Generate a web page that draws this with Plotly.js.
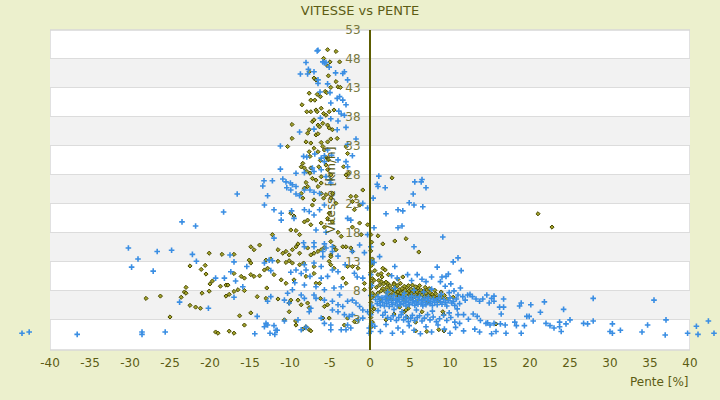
<!DOCTYPE html>
<html>
<head>
<meta charset="utf-8">
<script src="https://cdn.plot.ly/plotly-3.0.1.min.js"></script>
<style>html,body{margin:0;padding:0;background:#ecf0cd;}#chart{width:720px;height:400px;}</style>
</head>
<body>
<div id="chart"></div>
<script>
// ---- DATA: [pente %, vitesse km/h] ----
const blueFarLeft = [[-43.5,0.7],[-42.6,0.9],[-36.6,0.5],[-28.5,0.9],[-28.5,0.5],[-25.6,0.9],[-30.2,15.4],[-29.0,13.5],[-29.8,12.1],[-26.6,14.8],[-24.8,15.0],[-27.1,11.4],[-22.2,14.3],[-21.7,13.1],[-17.5,14.2],[-17.0,13.0],[-19.3,10.2],[-18.2,10.2],[-17.4,11.3],[-16.8,9.7],[-17.0,6.9],[-23.8,6.05],[-20.2,5.0],[-23.5,19.9],[-21.8,19.2],[-18.3,21.6]];
const blueLeftMid = [[-13.4,26.1],[-16.6,24.7],[-12.8,24.4],[-13.2,22.8],[-13.25,27.0],[-12.6,13.3],[-13.2,12.8],[-15.4,12.2],[-15.9,8.7],[-12.8,6.2],[-12.4,7.0],[-14.1,3.6],[-13.0,2.4],[-13.2,1.8],[-12.8,2.1],[-12.5,0.7],[-14.4,0.6]];
const bluePeakTop = [[-6.6,49.4],[-6.5,49.5],[-8.0,47.4],[-5.9,47.5],[-5.7,47.3],[-5.5,47.4],[-5.1,46.6],[-8.7,45.4],[-7.8,45.4],[-7.7,46.2],[-7.0,45.8],[-6.5,44.4],[-6.5,43.8],[-5.3,43.7],[-4.3,45.6],[-3.4,45.5],[-3.2,45.8],[-2.8,44.4],[-5.0,42.2],[-4.1,41.2],[-3.8,41.5],[-3.4,40.9],[-3.0,40.1],[-6.25,42.3],[-4.9,40.4],[-3.9,39.0],[-3.6,38.5],[-3.2,38.3],[-6.2,37.8],[-4.9,37.7],[-4.0,37.3],[-8.8,35.4],[-7.0,35.9],[-4.1,35.8],[-3.0,36.2]];
const bluePeakMid = [[-11.2,33.0],[-8.3,31.2],[-7.9,31.1],[-6.1,30.9],[-5.7,31.3],[-5.7,30.3],[-4.8,31.4],[-4.0,30.6],[-3.0,30.3],[-2.8,33.3],[-2.2,31.3],[-1.75,34.2],[-2.8,29.4],[-6.9,31.6],[-5.3,32.3],[-11.2,29.0],[-9.25,28.3],[-8.2,28.4],[-7.2,29.2],[-7.0,28.6],[-6.1,28.9],[-5.5,27.7],[-5.0,27.1],[-4.9,26.6],[-12.2,27.0],[-10.9,27.3],[-10.5,26.8],[-9.95,26.6],[-9.7,26.3],[-9.25,26.0],[-10.4,25.8],[-9.9,25.4],[-9.25,24.7],[-8.8,24.4],[-8.2,25.4],[-7.5,25.4],[-7.0,25.0],[-6.3,24.8],[-12.0,22.0],[-11.1,21.4],[-11.1,20.2],[-9.8,21.8],[-9.5,20.5],[-8.2,22.0],[-7.6,21.7],[-7.0,21.1],[-6.3,22.0],[-5.7,22.8],[-2.8,20.5],[-2.4,20.2],[-0.9,23.1],[-0.3,22.3],[-6.75,18.5],[-5.5,18.1],[-0.3,17.7],[-12.0,17.1]];
const bluePeakLow = [[-8.3,16.3],[-8.2,15.6],[-7.0,16.3],[-7.0,15.6],[-5.7,16.1],[-5.5,15.4],[-5.9,14.8],[-5.9,13.9],[-4.7,15.6],[-4.7,14.8],[-4.0,14.0],[-1.3,15.9],[-0.7,14.6],[-2.2,14.8],[-12.2,13.2],[-12.4,11.5],[-9.9,11.2],[-9.25,11.6],[-8.6,11.0],[-8.2,12.5],[-8.0,11.6],[-7.0,12.8],[-6.1,12.2],[-4.7,11.6],[-4.0,11.3],[-3.1,12.5],[-1.95,11.05],[-1.6,10.4],[-0.9,10.2],[-9.4,9.4],[-8.2,9.0],[-7.5,10.5],[-6.1,10.2],[-5.3,10.5],[-6.75,8.7],[-5.7,8.2],[-4.5,8.5],[-3.6,8.7],[-3.8,7.3],[-10.3,7.6],[-9.7,8.2],[-8.6,7.3],[-8.2,6.7],[-7.4,5.0],[-7.6,4.4],[-7.0,7.3],[-6.75,6.7],[-5.7,6.4],[-4.7,6.2],[-4.0,5.6],[-3.4,5.3],[-4.7,4.7],[-4.0,4.4],[-3.2,3.9],[-2.6,3.6],[-2.2,3.9],[-2.8,6.2],[-2.2,6.4],[-1.75,5.9],[-1.3,5.3],[-0.9,4.7],[-0.3,4.4],[-6.1,3.3],[-5.7,2.4],[-4.9,2.1],[-4.9,1.3],[-3.6,1.3],[-3.0,1.3],[-2.4,1.6],[-2.8,2.1],[-12.0,2.0],[-11.75,1.2],[-8.0,1.7],[-8.6,1.3],[-1.5,3.0],[-0.9,3.3],[-0.1,1.6],[-0.1,0.7],[-10.7,6.4],[-10.1,5.9],[-10.7,2.8],[-9.0,3.0],[-11.6,1.2],[-11.9,0.5]];
const blueRightUpper = [[1.0,26.0],[1.1,27.8],[0.9,26.4],[1.9,25.8],[5.6,26.8],[6.4,26.8],[6.5,27.2],[7.0,25.8],[5.4,24.7],[4.9,23.2],[5.5,22.8],[6.6,22.5],[3.5,22.0],[4.1,21.8],[2.0,21.3],[4.0,19.2],[3.5,18.9],[0.5,18.9],[9.1,17.3],[5.5,15.6],[1.2,13.9],[11.0,13.7],[10.4,13.0],[11.4,11.5],[8.4,12.1],[3.1,12.2],[0.5,12.9],[9.8,10.9],[9.5,10.5],[9.0,10.4],[7.7,10.4],[8.8,9.6],[7.0,9.6],[5.9,10.8],[4.7,10.8],[6.5,10.0],[5.2,9.8],[3.4,10.2],[2.7,10.6],[0.4,24.0],[0.1,15.6],[0.2,13.0],[0.1,10.8],[0.2,8.9],[0.1,7.2],[0.2,5.5],[0.1,3.9],[0.2,2.3],[0.1,1.0]];
const blueCluster = [[0.7,6.5],[0.9,5.8],[1.0,7.0],[1.2,6.2],[1.3,5.5],[1.5,6.8],[1.6,6.0],[1.8,5.4],[1.9,6.5],[2.0,7.1],[2.1,5.8],[2.3,6.3],[2.4,5.3],[2.5,6.9],[2.7,6.0],[2.8,5.6],[2.9,6.6],[3.0,7.2],[3.2,5.9],[3.3,6.4],[3.4,5.4],[3.6,6.8],[3.7,6.1],[3.8,5.6],[4.0,6.5],[4.1,7.0],[4.2,5.8],[4.4,6.2],[4.5,5.4],[4.6,6.8],[4.8,6.0],[4.9,5.6],[5.0,6.6],[5.2,7.1],[5.3,5.9],[5.4,6.3],[5.6,5.5],[5.7,6.9],[5.8,6.1],[6.0,5.7],[6.1,6.5],[6.2,7.0],[6.4,5.9],[6.5,6.3],[6.6,5.4],[6.8,6.7],[6.9,6.0],[7.0,5.6],[7.2,6.4],[7.3,6.9],[7.5,5.8],[7.6,6.2],[7.8,5.5],[7.9,6.6],[8.1,6.0],[8.3,6.4],[8.4,5.6],[8.6,6.8],[8.8,6.1],[9.0,5.7],[9.2,6.5],[9.4,6.0],[9.6,5.4],[9.8,6.3],[10.0,6.8],[10.2,5.9],[10.4,6.2],[10.6,5.5],[10.8,6.6],[11.0,7.3],[11.2,5.8],[2.2,7.8],[3.1,8.4],[4.3,7.6],[5.5,8.1],[6.7,7.8],[7.7,8.3],[8.9,7.4],[9.9,7.7],[10.5,8.0],[11.3,8.5],[10.1,9.2],[9.4,8.8],[1.6,3.8],[2.2,3.4],[2.6,3.1],[2.9,3.7],[3.3,2.9],[3.6,3.4],[3.9,3.9],[4.2,3.0],[4.5,3.5],[4.8,2.7],[5.1,3.3],[5.3,3.8],[5.6,2.9],[5.9,3.4],[6.2,3.7],[6.5,2.8],[6.8,3.3],[7.2,3.9],[7.5,3.0],[7.9,3.5],[8.3,2.7],[8.7,3.2],[9.2,3.8],[9.6,2.9],[10.1,3.4],[10.6,2.6],[11.0,3.9],[0.6,1.9],[1.3,1.0],[2.0,2.2],[2.8,0.7],[3.5,1.6],[4.1,0.9],[4.9,2.0],[5.5,1.2],[6.3,0.6],[7.0,1.8],[7.7,0.9],[8.5,2.1],[9.3,1.4],[10.0,0.7],[10.7,1.7],[11.2,2.4],[1.0,4.6],[1.9,4.3],[3.0,4.8],[4.0,4.4],[5.8,4.7],[7.8,4.5],[9.9,4.2],[10.9,4.9]];
const blueTail = [[11.6,7.0],[11.9,6.4],[12.2,7.3],[12.5,7.4],[12.8,7.0],[13.25,6.6],[13.7,6.2],[14.1,6.6],[14.6,7.3],[14.9,5.9],[15.2,6.7],[15.5,7.1],[15.5,6.2],[16.2,5.2],[16.7,6.6],[16.7,5.2],[11.7,3.9],[12.3,3.1],[12.9,4.0],[13.4,3.6],[13.8,2.9],[14.5,2.4],[14.7,2.5],[15.0,2.1],[15.5,2.4],[16.3,2.3],[16.9,2.1],[16.4,4.0],[11.7,1.1],[13.1,1.4],[13.7,0.9],[15.2,0.6],[15.75,1.0],[17.0,0.7],[18.1,2.6],[18.7,5.4],[18.9,5.9],[18.3,2.0],[18.9,0.7],[19.3,2.0],[19.6,3.6],[19.9,3.6],[20.1,5.6],[20.4,2.8],[21.3,4.3],[21.8,6.1],[22.0,2.4],[22.5,2.0],[23.0,1.6],[23.7,2.6],[23.7,1.8],[23.9,1.0],[24.2,4.8],[24.5,2.3],[25.0,3.0],[26.7,2.4],[27.2,2.3],[27.9,6.7],[27.9,2.8],[30.0,1.0],[30.3,2.3],[30.3,0.7],[31.3,1.2],[34.0,0.9],[34.7,2.1],[35.5,6.4],[36.9,0.4],[37.0,3.0],[39.7,0.7],[40.8,1.9],[41.0,0.5],[42.3,2.8],[43.0,0.7]];

const oliveFarLeft = [[-20.1,14.5],[-18.5,14.3],[-17.0,14.3],[-22.5,12.3],[-21.1,11.7],[-20.6,12.4],[-20.5,10.9],[-20.0,9.2],[-19.7,9.7],[-18.7,8.8],[-18.0,9.0],[-17.75,9.0],[-23.0,8.6],[-23.2,7.8],[-23.0,7.6],[-23.6,6.9],[-28.0,6.7],[-26.2,7.1],[-21.0,7.6],[-20.1,7.95],[-22.5,5.5],[-21.8,5.2],[-21.2,5.0],[-25.0,3.5],[-18.0,7.1],[-17.6,7.4],[-17.0,7.9],[-16.5,8.2],[-19.3,0.9],[-19.0,0.7],[-17.6,1.05],[-17.0,0.7],[-16.3,3.7]];
const oliveLeftMid = [[-14.9,15.6],[-14.5,15.1],[-13.8,15.9],[-15.1,13.3],[-14.9,12.8],[-13.0,13.3],[-12.4,13.5],[-17.0,11.0],[-16.1,10.5],[-15.7,10.2],[-14.9,10.8],[-14.5,10.5],[-13.8,10.6],[-13.2,11.6],[-12.8,11.9],[-15.7,8.05],[-14.1,7.0],[-13.0,6.7],[-12.9,8.5],[-14.9,4.2],[-15.7,2.1],[-9.75,36.7]];
const olivePeakTop = [[-5.3,49.6],[-4.25,49.3],[-5.8,48.1],[-5.0,47.5],[-3.8,47.5],[-5.3,46.8],[-7.6,45.8],[-7.0,44.7],[-6.75,44.4],[-5.2,45.1],[-4.25,44.1],[-4.0,43.2],[-3.7,43.1],[-4.9,43.1],[-5.6,42.4],[-5.4,42.2],[-7.6,42.1],[-6.6,41.9],[-6.2,41.5],[-7.4,40.9],[-6.9,40.9],[-8.5,40.1],[-7.9,38.9],[-7.4,38.9],[-6.75,39.2],[-6.6,38.9],[-6.1,39.5],[-5.8,38.6],[-5.5,38.3],[-5.1,38.9],[-4.5,39.2],[-7.2,37.2],[-7.0,37.5],[-6.5,36.6],[-6.3,36.3],[-5.9,36.9],[-5.3,36.6],[-5.1,36.1],[-4.7,35.8],[-7.8,35.2],[-7.6,35.8],[-6.75,34.9],[-6.5,35.1]];
const olivePeakMid = [[-10.3,32.9],[-8.0,33.7],[-7.4,33.5],[-7.0,32.6],[-6.5,32.0],[-7.6,32.0],[-7.5,31.2],[-8.4,30.0],[-8.6,29.4],[-8.2,29.2],[-7.4,29.2],[-7.5,28.3],[-7.2,27.4],[-8.0,26.7],[-7.8,26.0],[-8.2,25.7],[-8.6,24.8],[-8.4,24.0],[-6.75,27.1],[-6.5,26.0],[-6.1,26.6],[-6.1,24.8],[-5.8,24.0],[-5.5,24.6],[-7.0,23.7],[-7.2,22.8],[-4.7,24.8],[-4.9,24.0],[-4.25,23.1],[-5.1,21.4],[-5.3,20.5],[-4.7,19.9],[-7.8,20.2],[-8.2,19.9],[-7.4,19.4],[-9.9,21.4],[-9.5,20.9],[-9.9,18.5],[-9.25,18.4],[-8.8,17.7],[-6.1,19.7],[-5.7,19.0],[-4.0,18.1],[-3.6,17.4],[-2.2,19.0],[-1.3,19.7],[-1.1,17.7],[-1.95,22.0],[-1.3,22.8],[-1.75,24.3],[-0.9,25.4],[-3.3,29.4],[-2.7,28.3],[-2.8,31.7],[-3.0,32.9],[-2.4,24.3],[-2.2,23.4],[-12.2,17.7],[-0.3,19.4],[-5.7,32.3],[-5.3,33.7],[-6.1,33.6],[-9.75,34.3],[-4.9,34.2],[-4.1,34.3],[-5.9,32.9],[-5.5,31.1],[-5.2,30.6],[-6.4,29.4],[-5.5,29.7],[-5.3,28.9],[-6.1,27.7],[-4.9,28.0],[-3.0,28.0],[-6.2,30.5],[-7.9,28.6]];
const olivePeakLow = [[-11.5,15.1],[-10.9,14.5],[-10.5,14.8],[-10.1,14.2],[-9.7,15.1],[-9.25,15.6],[-9.0,16.1],[-8.8,14.5],[-7.4,14.2],[-7.0,14.5],[-6.5,14.8],[-6.1,15.1],[-4.9,16.5],[-4.5,15.6],[-3.4,15.6],[-3.0,15.6],[-2.4,15.4],[-2.2,14.8],[-4.9,14.2],[-4.9,13.9],[-11.5,13.1],[-10.5,12.9],[-10.1,13.2],[-9.7,12.8],[-8.8,12.5],[-8.3,12.8],[-7.0,12.2],[-5.1,13.1],[-4.9,12.5],[-4.5,11.9],[-2.8,12.2],[-2.2,12.2],[-1.5,11.9],[-12.0,10.8],[-11.1,9.9],[-10.5,9.3],[-7.0,11.0],[-6.75,9.3],[-6.3,9.3],[-3.4,10.2],[-3.0,9.3],[-0.7,9.3],[-0.7,8.2],[-11.5,6.6],[-10.1,5.9],[-9.9,6.4],[-7.8,5.9],[-5.7,5.3],[-5.3,5.6],[-10.1,4.4],[-10.7,3.0],[-9.25,2.1],[-8.4,1.4],[-8.0,1.8],[-7.6,1.3],[-5.9,3.3],[-5.1,3.3],[-2.8,3.3],[-1.95,2.7],[-8.6,5.6],[-7.6,5.1],[-9.0,6.4],[-6.2,6.7],[-7.4,1.1],[-3.2,2.1],[-9.5,9.9],[-8.0,10.5],[-4.25,15.1],[-7.8,15.4],[-5.7,15.5],[-9.3,2.8]];
const oliveRight = [[2.75,27.5],[6.1,14.7],[4.5,17.0],[3.1,16.6],[1.6,16.1],[1.0,17.5],[21.0,21.3],[22.75,19.0],[1.6,11.9],[1.9,11.6],[1.4,11.0],[1.0,10.8],[4.1,10.4],[3.0,9.3],[2.2,9.3],[1.4,9.6],[3.5,10.0],[0.1,17.7],[0.2,16.4],[0.1,14.9],[0.3,13.5],[0.2,12.4],[0.1,11.2],[0.3,10.1],[0.2,9.3],[0.1,8.5],[0.3,7.6],[0.2,6.8],[0.1,6.0],[0.3,5.1],[0.2,4.3],[0.1,3.4],[0.3,2.6],[0.2,1.8],[0.5,9.8],[0.6,11.5],[0.4,12.9],[0.6,7.2],[0.5,4.9]];
const oliveCluster = [[1.6,8.4],[1.9,7.9],[2.1,8.6],[2.3,7.5],[2.4,8.1],[2.6,7.2],[2.8,8.3],[2.9,7.7],[3.1,8.0],[3.2,7.4],[3.3,8.7],[3.5,7.8],[3.6,7.1],[3.7,8.2],[3.9,7.6],[4.0,8.4],[4.1,7.0],[4.2,7.9],[4.4,8.1],[4.5,7.3],[4.6,8.6],[4.7,7.7],[4.9,8.0],[5.0,7.2],[5.1,8.3],[5.2,7.6],[5.4,7.9],[5.5,7.0],[5.6,8.2],[5.8,7.5],[5.9,7.8],[6.0,8.5],[6.1,7.1],[6.3,7.7],[6.4,8.1],[6.5,7.3],[6.7,7.9],[6.8,7.0],[7.0,7.6],[7.1,8.2],[7.3,7.2],[7.5,7.7],[7.6,6.9],[7.8,7.4],[8.0,7.0],[8.2,7.5],[8.4,6.8],[8.7,7.1],[9.0,6.9],[9.3,7.2],[1.2,9.0],[1.4,8.0],[1.7,9.2],[2.0,9.5],[2.5,8.9],[3.0,9.1],[3.4,8.9],[3.8,9.3],[4.3,8.8],[4.8,8.9],[5.3,9.0],[5.7,8.7],[6.2,8.9],[6.9,8.6],[7.4,8.4],[8.1,8.1],[8.9,7.8],[2.2,6.8],[2.7,6.5],[3.4,6.7],[4.3,6.4],[5.1,6.6],[5.9,6.3],[6.6,6.5],[7.2,6.1],[8.5,6.2],[9.6,6.6],[10.4,6.9],[1.0,7.6],[1.3,6.6],[0.8,8.6],[1.1,9.8],[1.5,10.4],[2.3,10.8],[3.0,4.0],[4.6,3.5],[5.7,2.6],[6.5,4.4],[7.1,1.0],[9.25,1.1],[15.75,2.3],[3.7,5.2],[4.8,5.0],[2.0,3.0],[5.7,1.1],[4.3,4.4],[4.5,4.7],[9.1,4.4],[9.2,3.9],[8.6,1.3]];

const xTickVals = [-40,-35,-30,-25,-20,-15,-10,-5,0,5,10,15,20,25,30,35,40];
const xTickText = ['-40','-35','-30','-25','-20','-15','-10','-5','0','5','10','15','20','25','30','35','40'];
const yTickVals = [3,8,13,18,23,28,33,38,43,48,53];
const bandStarts = [3,13,23,33,43];

const blueSeries = [].concat(blueFarLeft, blueLeftMid, bluePeakTop, bluePeakMid, bluePeakLow, blueRightUpper, blueCluster, blueTail);
const oliveSeries = [].concat(oliveFarLeft, oliveLeftMid, olivePeakTop, olivePeakMid, olivePeakLow, oliveRight, oliveCluster);

// geometry: plot box 50..690 px of a 720 px page; x scale 8 px per %
const W = 720, plotL = 50, plotR = 690, xMin = -40, xMax = 40;
const pxPerUnit = (plotR - plotL) / (xMax - xMin);
const fullRange = [xMin - plotL / pxPerUnit, xMax + (W - plotR) / pxPerUnit];
const inside = p => p[0] >= xMin && p[0] <= xMax;

const oliveMarker = {symbol: 'diamond', size: 3.2, color: '#a3a32c', line: {color: '#4a4a00', width: 1}};
const blueMarker = {symbol: 'cross-thin', size: 4, color: '#3a8ee3', line: {color: '#3a8ee3', width: 1.6}};

function tr(pts, marker, xa, ya) {
  return {type: 'scatter', mode: 'markers', cliponaxis: false, hoverinfo: 'skip',
          x: pts.map(p => p[0]), y: pts.map(p => p[1]), marker: marker, xaxis: xa, yaxis: ya};
}
const traces = [
  tr(oliveSeries.filter(inside), oliveMarker, 'x', 'y'),
  tr(blueSeries.filter(inside), blueMarker, 'x', 'y'),
  tr(oliveSeries.filter(p => !inside(p)), oliveMarker, 'x2', 'y2'),
  tr(blueSeries.filter(p => !inside(p)), blueMarker, 'x2', 'y2')
];

const shapes = [{type: 'rect', xref: 'x', yref: 'paper', x0: xMin, x1: xMax, y0: 0, y1: 1,
                 fillcolor: '#ffffff', line: {width: 0}, layer: 'below'}];
bandStarts.forEach(b => shapes.push({type: 'rect', xref: 'x', yref: 'y', x0: xMin, x1: xMax, y0: b, y1: b + 5,
  fillcolor: '#f2f2f2', line: {width: 0}, layer: 'below'}));
shapes.push({type: 'rect', xref: 'x', yref: 'paper', x0: xMin, x1: xMax, y0: 0, y1: 1,
  line: {color: '#d8d8d8', width: 1.5}, fillcolor: 'rgba(0,0,0,0)', layer: 'below'});

const layout = {
  width: 720, height: 400,
  margin: {l: 0, r: 0, t: 30, b: 50, pad: 0},
  paper_bgcolor: '#ecf0cd', plot_bgcolor: 'rgba(0,0,0,0)',
  font: {family: 'DejaVu Sans, sans-serif', size: 12, color: '#5c5c14'},
  showlegend: false,
  title: {text: 'VITESSE vs PENTE', x: 0.5, xref: 'container', y: 0.975, yanchor: 'middle',
          font: {size: 13, color: '#5c5c14'}},
  xaxis: {domain: [plotL / W, plotR / W], range: [xMin, xMax], tickmode: 'array',
          tickvals: xTickVals, ticktext: xTickText, showgrid: false, zeroline: false,
          showline: false, ticks: '', ticklabelstandoff: 4, tickfont: {size: 12, color: '#5c5c14'}},
  yaxis: {range: [-2.2, 53], tickmode: 'array', tickvals: yTickVals,
          showgrid: true, gridcolor: '#dcdcdc', gridwidth: 1, zeroline: false,
          anchor: 'free', position: (plotL + (0 - xMin) * pxPerUnit) / W,
          showline: true, linecolor: '#5c5c00', linewidth: 2,
          ticks: '', ticklabelstandoff: 6, tickfont: {size: 12, color: '#78783e'},
          title: {text: 'Vitesse [km/h]', standoff: 6, font: {size: 12, color: '#5c5c14'}}},
  xaxis2: {domain: [0, 1], range: fullRange, visible: false, anchor: 'y2', showgrid: false, zeroline: false},
  yaxis2: {range: [-2.2, 53], visible: false, anchor: 'x2', showgrid: false, zeroline: false},
  shapes: shapes,
  annotations: [{text: 'Pente [%]', xref: 'x', yref: 'paper', x: xMax, y: 0,
                 xanchor: 'right', yanchor: 'top', yshift: -23, showarrow: false,
                 font: {size: 12, color: '#5c5c14'}}]
};

Plotly.newPlot('chart', traces, layout, {staticPlot: true, displayModeBar: false});
</script>
</body>
</html>
